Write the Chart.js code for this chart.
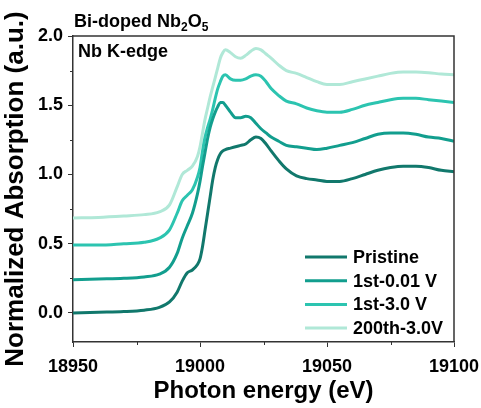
<!DOCTYPE html>
<html>
<head>
<meta charset="utf-8">
<script src="https://cdn.jsdelivr.net/npm/chart.js@4"></script>
<style>
  html, body { margin: 0; padding: 0; background: #fff; }
  canvas { display: block; }
</style>
</head>
<body>
<canvas id="xasChart" width="481" height="408"></canvas>
<script>
// photon energy grid (eV)
const energy = [18950, 18960, 18970, 18978, 18984, 18988, 18991, 18993, 18995, 18997, 18999,
  19000, 19001, 19002, 19003, 19004, 19005, 19006, 19007, 19008, 19009, 19010,
  19012, 19014, 19016, 19018, 19020, 19022, 19024, 19026, 19028, 19031, 19034,
  19038, 19042, 19046, 19050, 19055, 19060, 19065, 19070, 19075, 19080, 19085,
  19090, 19095, 19100];

const pristine = [0.00, 0.005, 0.01, 0.02, 0.04, 0.08, 0.15, 0.23, 0.29, 0.31, 0.35,
  0.39, 0.48, 0.60, 0.72, 0.84, 0.96, 1.05, 1.11, 1.15, 1.17, 1.18,
  1.19, 1.20, 1.21, 1.22, 1.25, 1.27, 1.26, 1.22, 1.17, 1.10, 1.04,
  0.99, 0.97, 0.96, 0.95, 0.95, 0.97, 1.00, 1.03, 1.05, 1.06, 1.06,
  1.05, 1.03, 1.02];

const first001V = [0.24, 0.245, 0.25, 0.26, 0.28, 0.33, 0.43, 0.54, 0.63, 0.72, 0.86,
  0.95, 1.06, 1.16, 1.26, 1.34, 1.40, 1.45, 1.49, 1.52, 1.52, 1.50,
  1.45, 1.41, 1.41, 1.42, 1.41, 1.37, 1.33, 1.30, 1.27, 1.24, 1.21,
  1.20, 1.19, 1.18, 1.19, 1.21, 1.23, 1.26, 1.29, 1.30, 1.30, 1.29,
  1.27, 1.26, 1.24];

const first30V = [0.49, 0.49, 0.50, 0.51, 0.54, 0.60, 0.72, 0.81, 0.85, 0.89, 0.98,
  1.05, 1.17, 1.27, 1.34, 1.40, 1.47, 1.55, 1.62, 1.67, 1.71, 1.72,
  1.69, 1.68, 1.68, 1.69, 1.71, 1.72, 1.71, 1.67, 1.62, 1.57, 1.53,
  1.51, 1.48, 1.46, 1.45, 1.45, 1.47, 1.50, 1.52, 1.54, 1.55, 1.55,
  1.54, 1.53, 1.52];

const cycle200 = [0.685, 0.69, 0.70, 0.71, 0.73, 0.78, 0.91, 1.00, 1.03, 1.06, 1.13,
  1.20, 1.30, 1.40, 1.48, 1.56, 1.63, 1.70, 1.77, 1.84, 1.88, 1.90,
  1.88, 1.85, 1.84, 1.86, 1.89, 1.91, 1.90, 1.87, 1.84, 1.79, 1.75,
  1.73, 1.70, 1.67, 1.65, 1.65, 1.67, 1.69, 1.71, 1.73, 1.74, 1.74,
  1.735, 1.725, 1.72];

const seriesNames = ['Pristine', '1st-0.01 V', '1st-3.0 V', '200th-3.0V'];
const seriesValues = [pristine, first001V, first30V, cycle200];
const seriesColors = ['#11786c', '#129e8e', '#2cc4b0', '#b0e8d7'];

const xTicks = [18950, 19000, 19050, 19100];
const xMinor = [18975, 19025, 19075];
const yTicks = [0.0, 0.5, 1.0, 1.5, 2.0];
const yMinor = [0.25, 0.75, 1.25, 1.75];

const FONT = "'Liberation Sans', Arial, sans-serif";
const AXIS_COLOR = '#333';

Chart.defaults.font.family = FONT;
Chart.defaults.color = '#000';

// box frame, minor ticks, legend and the two labels
const extras = {
  id: 'extras',
  afterDraw(chart) {
    const c = chart.ctx;
    const a = chart.chartArea;
    const xs = chart.scales.x, ys = chart.scales.y;
    c.save();
    c.strokeStyle = AXIS_COLOR;
    c.lineWidth = 1.5;
    c.beginPath();
    c.moveTo(a.left, a.top);
    c.lineTo(a.right, a.top);
    c.lineTo(a.right, a.bottom);
    c.stroke();

    c.lineWidth = 1;
    c.beginPath();
    xMinor.forEach(v => {
      const px = Math.round(xs.getPixelForValue(v)) + 0.5;
      c.moveTo(px, a.bottom);
      c.lineTo(px, a.bottom + 3);
    });
    yMinor.forEach(v => {
      const py = Math.round(ys.getPixelForValue(v)) + 0.5;
      c.moveTo(a.left, py);
      c.lineTo(a.left - 3, py);
    });
    c.stroke();

    // legend
    c.font = 'bold 18px ' + FONT;
    c.textBaseline = 'middle';
    c.fillStyle = '#000';
    chart.data.datasets.forEach((ds, i) => {
      const y = 257 + i * 23.7;
      c.strokeStyle = ds.borderColor;
      c.lineWidth = 3;
      c.beginPath();
      c.moveTo(305, y);
      c.lineTo(347, y);
      c.stroke();
      c.fillText(ds.label, 353, y + 1);
    });

    // top label with subscripts
    c.textBaseline = 'alphabetic';
    let x = 74;
    const parts = [['Bi-doped Nb', 18, 27], ['2', 12, 31], ['O', 18, 27], ['5', 12, 31]];
    parts.forEach(p => {
      c.font = 'bold ' + p[1] + 'px ' + FONT;
      c.fillText(p[0], x, p[2]);
      x += c.measureText(p[0]).width;
    });
    c.font = 'bold 18px ' + FONT;
    c.fillText('Nb K-edge', 78, 57);
    c.restore();
  }
};

const ctx = document.getElementById('xasChart').getContext('2d');

const chart = new Chart(ctx, {
  type: 'line',
  data: {
    datasets: seriesNames.map((name, i) => ({
      label: name,
      data: energy.map((e, j) => ({ x: e, y: seriesValues[i][j] })),
      borderColor: seriesColors[i],
      borderWidth: 3,
      pointRadius: 0,
      fill: false,
      cubicInterpolationMode: 'monotone'
    }))
  },
  options: {
    responsive: false,
    animation: false,
    layout: { padding: { top: 36, right: 27, left: 0, bottom: 0 } },
    plugins: {
      legend: { display: false },
      tooltip: { enabled: false }
    },
    scales: {
      x: {
        type: 'linear',
        min: 18950,
        max: 19100,
        afterBuildTicks: s => { s.ticks = xTicks.map(v => ({ value: v })); },
        afterFit: s => { s.height = 66; s.paddingLeft = 0; s.paddingRight = 0; },
        ticks: {
          font: { size: 18, weight: 'bold' },
          color: '#000',
          padding: 9,
          maxRotation: 0,
          callback: v => String(v)
        },
        grid: { drawOnChartArea: false, tickLength: 5, color: AXIS_COLOR },
        border: { color: AXIS_COLOR, width: 1.5 },
        title: {
          display: true,
          text: 'Photon energy (eV)',
          font: { size: 24, weight: 'bold' },
          color: '#000',
          padding: { top: 0, bottom: 2 }
        }
      },
      y: {
        min: -0.21,
        max: 2.0,
        afterBuildTicks: s => { s.ticks = yTicks.map(v => ({ value: v })); },
        afterFit: s => { s.width = 73; s.paddingTop = 0; s.paddingBottom = 0; },
        ticks: {
          font: { size: 18, weight: 'bold' },
          color: '#000',
          padding: 5,
          callback: v => Number(v).toFixed(1)
        },
        grid: { drawOnChartArea: false, tickLength: 5, color: AXIS_COLOR },
        border: { color: AXIS_COLOR, width: 1.5 },
        title: {
          display: true,
          text: 'Normalized Absorption (a.u.)',
          font: { size: 26, weight: 'bold' },
          color: '#000',
          padding: { top: 0, bottom: 1 }
        }
      }
    }
  },
  plugins: [extras]
});
</script>
</body>
</html>
